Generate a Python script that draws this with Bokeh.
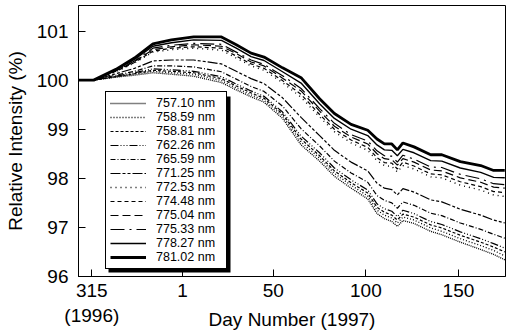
from bokeh.plotting import figure
from bokeh.models import Range1d, FixedTicker, Legend, LegendItem, BoxAnnotation
from bokeh.embed import file_html
from bokeh.resources import INLINE

# Day number (1997); negative values are late 1996
days = [-55, -47, -35, -25, -15, -5, 7, 22, 30, 38, 45, 55, 65, 75, 83, 92, 101,
        106, 110, 114, 117, 120, 126, 135, 141, 151, 162, 169, 175]

i757_10 = [100.00, 100.00, 100.06, 100.10, 100.15, 100.12, 100.08, 99.95, 99.80, 99.66, 99.55, 99.22, 98.68, 98.35, 98.04, 97.80, 97.58,
           97.28, 97.18, 97.12, 97.02, 97.14, 97.08, 96.92, 96.85, 96.70, 96.55, 96.45, 96.34]
i758_59 = [100.00, 100.00, 100.07, 100.12, 100.18, 100.15, 100.12, 99.99, 99.84, 99.70, 99.59, 99.27, 98.74, 98.41, 98.10, 97.86, 97.64,
           97.35, 97.25, 97.19, 97.09, 97.21, 97.15, 96.99, 96.92, 96.77, 96.63, 96.53, 96.42]
i758_81 = [100.00, 100.00, 100.07, 100.13, 100.20, 100.18, 100.15, 100.03, 99.88, 99.74, 99.63, 99.31, 98.80, 98.46, 98.15, 97.91, 97.70,
           97.41, 97.31, 97.25, 97.15, 97.27, 97.21, 97.05, 96.99, 96.84, 96.70, 96.60, 96.50]
i762_26 = [100.00, 100.00, 100.08, 100.15, 100.23, 100.21, 100.18, 100.07, 99.92, 99.78, 99.67, 99.35, 98.86, 98.52, 98.21, 97.97, 97.76,
           97.48, 97.38, 97.33, 97.22, 97.35, 97.28, 97.12, 97.06, 96.91, 96.77, 96.67, 96.58]
i765_59 = [100.00, 100.00, 100.10, 100.18, 100.29, 100.29, 100.27, 100.17, 100.02, 99.87, 99.77, 99.47, 99.01, 98.66, 98.35, 98.11, 97.92,
           97.65, 97.55, 97.50, 97.39, 97.52, 97.45, 97.29, 97.24, 97.09, 96.96, 96.86, 96.78]
i771_25 = [100.00, 100.00, 100.13, 100.24, 100.39, 100.41, 100.41, 100.33, 100.18, 100.03, 99.93, 99.64, 99.24, 98.87, 98.57, 98.33, 98.15,
           97.90, 97.80, 97.77, 97.66, 97.79, 97.72, 97.56, 97.52, 97.37, 97.25, 97.15, 97.09]
i772_53 = [100.00, 100.00, 100.17, 100.35, 100.57, 100.62, 100.65, 100.61, 100.45, 100.29, 100.20, 99.95, 99.65, 99.25, 98.95, 98.72, 98.57,
           98.36, 98.26, 98.24, 98.13, 98.26, 98.19, 98.03, 98.01, 97.86, 97.76, 97.66, 97.63]
i774_48 = [100.00, 100.00, 100.18, 100.36, 100.59, 100.65, 100.68, 100.65, 100.49, 100.33, 100.24, 99.99, 99.71, 99.30, 99.00, 98.78, 98.63,
           98.42, 98.32, 98.31, 98.19, 98.33, 98.25, 98.09, 98.07, 97.93, 97.83, 97.73, 97.71]
i775_04 = [100.00, 100.00, 100.19, 100.38, 100.62, 100.68, 100.72, 100.69, 100.54, 100.37, 100.29, 100.04, 99.78, 99.37, 99.06, 98.84, 98.70,
           98.50, 98.40, 98.38, 98.27, 98.40, 98.33, 98.17, 98.15, 98.01, 97.92, 97.82, 97.80]
i775_33 = [100.00, 100.00, 100.19, 100.39, 100.65, 100.71, 100.75, 100.73, 100.57, 100.41, 100.32, 100.09, 99.83, 99.42, 99.12, 98.89, 98.76,
           98.56, 98.46, 98.45, 98.33, 98.47, 98.39, 98.23, 98.22, 98.08, 97.99, 97.89, 97.87]
i778_27 = [100.00, 100.00, 100.21, 100.42, 100.69, 100.76, 100.82, 100.81, 100.65, 100.48, 100.40, 100.17, 99.94, 99.52, 99.22, 99.00, 98.87,
           98.68, 98.58, 98.57, 98.46, 98.59, 98.52, 98.36, 98.35, 98.21, 98.12, 98.02, 98.01]
i781_02 = [100.00, 100.00, 100.22, 100.45, 100.74, 100.82, 100.88, 100.88, 100.72, 100.55, 100.47, 100.25, 100.05, 99.62, 99.32, 99.10, 98.98,
           98.80, 98.70, 98.70, 98.58, 98.72, 98.64, 98.48, 98.48, 98.34, 98.26, 98.16, 98.16]

labels = ["757.10 nm", "758.59 nm", "758.81 nm", "762.26 nm", "765.59 nm", "771.25 nm",
          "772.53 nm", "774.48 nm", "775.04 nm", "775.33 nm", "778.27 nm", "781.02 nm"]
series = [i757_10, i758_59, i758_81, i762_26, i765_59, i771_25,
          i772_53, i774_48, i775_04, i775_33, i778_27, i781_02]

x_ticks = [-48, 1, 50, 100, 150]
x_tick_labels = {-48: "315\n(1996)", 1: "1", 50: "50", 100: "100", 150: "150"}
y_ticks = [96, 97, 98, 99, 100, 101]

# line styles (dash pattern, width)
dashes = ["1 1", "1 2", "3 2", "8 2 1 2 1 2 1 2", "5 2 1 2", "10 2 3 2 3 2",
          "1 4", "4 3", "8 4", "14 5 2 5", "solid", "solid"]
widths = [1.3, 1.3, 1.2, 1.2, 1.2, 1.2, 1.4, 1.2, 1.2, 1.2, 1.4, 2.8]

FONT = "Liberation Sans"

p = figure(width=506, height=332, output_backend="svg", toolbar_location=None,
           x_range=Range1d(-55.2, 175.4), y_range=Range1d(96, 101.52),
           min_border_left=78, min_border_right=1, min_border_top=5, min_border_bottom=53)

p.xgrid.visible = False
p.ygrid.visible = False
p.outline_line_color = "black"
p.outline_line_width = 1
p.outline_line_alpha = 1

items = []
for lab, ys, d, w in zip(labels, series, dashes, widths):
    r = p.line(days, ys, line_color="black", line_width=w, line_dash=d)
    items.append(LegendItem(label=lab, renderers=[r]))

for ax in (p.xaxis[0], p.yaxis[0]):
    ax.major_tick_in = 7
    ax.major_tick_out = 0
    ax.minor_tick_line_color = None
    ax.axis_line_color = "black"
    ax.major_tick_line_color = "black"
    ax.major_label_text_font = FONT
    ax.major_label_text_font_size = "19px"
    ax.major_label_text_color = "black"
    ax.axis_label_text_font = FONT
    ax.axis_label_text_font_size = "19px"
    ax.axis_label_text_font_style = "normal"
    ax.axis_label_text_color = "black"

p.xaxis.ticker = FixedTicker(ticks=x_ticks)
p.xaxis.major_label_overrides = x_tick_labels
p.xaxis.major_label_standoff = 3
p.xaxis.axis_label = "Day Number (1997)"
p.xaxis.axis_label_standoff = -20

p.yaxis.ticker = FixedTicker(ticks=y_ticks)
p.yaxis.major_label_standoff = 10
p.yaxis.axis_label = "Relative Intensity (%)"
p.yaxis.axis_label_standoff = 8

# legend shadow (screen units relative to the frame)
p.add_layout(BoxAnnotation(left=30, right=152, bottom=4, top=180,
                           left_units="screen", right_units="screen",
                           bottom_units="screen", top_units="screen",
                           fill_color="black", fill_alpha=1, line_color=None))

legend = Legend(items=items, location=(27, 7))
legend.label_text_font = FONT
legend.label_text_font_size = "12.5px"
legend.label_text_line_height = 1.0
legend.label_text_color = "black"
legend.glyph_width = 36
legend.glyph_height = 14
legend.label_height = 14
legend.label_width = 66
legend.label_standoff = 10
legend.spacing = 0
legend.padding = 4
legend.margin = 0
legend.border_line_color = "black"
legend.border_line_width = 1
legend.border_line_alpha = 1
legend.background_fill_color = "white"
legend.background_fill_alpha = 1
p.add_layout(legend)

open("out.html", "w").write(file_html(p, INLINE))
